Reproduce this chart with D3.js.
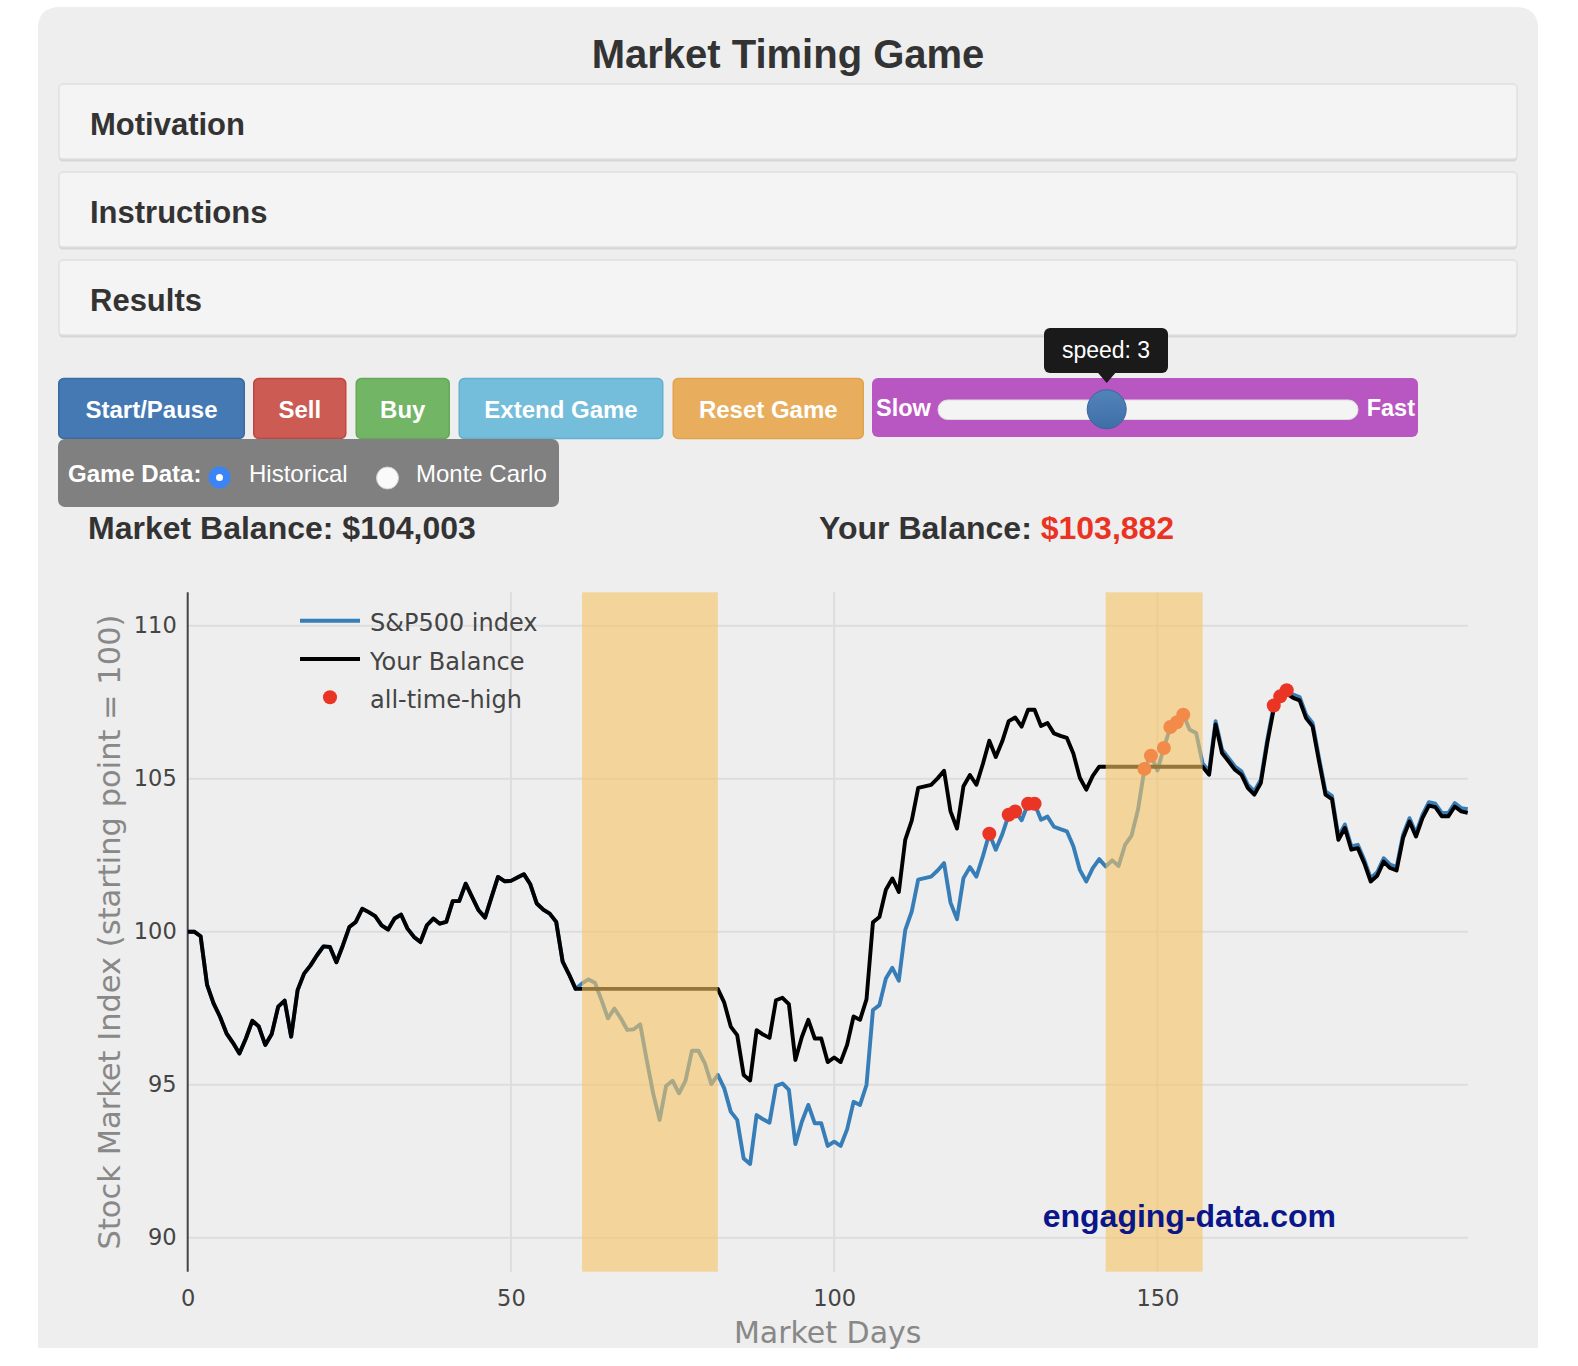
<!DOCTYPE html>
<html><head><meta charset="utf-8">
<script src="https://cdn.jsdelivr.net/npm/d3@7"></script>
<style>body{margin:0;background:#fff;overflow:hidden}svg{display:block}</style>
</head><body><svg id="page" width="1578" height="1366"></svg>
<script>
// ---------------- DATA ----------------
const spx = [
100.0,100.0,99.85,98.26,97.66,97.22,96.68,96.37,96.02,96.51,
97.09,96.9,96.3,96.66,97.55,97.75,96.57,98.09,98.63,98.9,
99.23,99.52,99.5,99.0,99.55,100.15,100.32,100.75,100.64,100.51,
100.21,100.07,100.43,100.56,100.1,99.83,99.66,100.21,100.43,100.26,
100.32,101.0,101.0,101.57,101.13,100.7,100.46,101.13,101.79,101.65,
101.66,101.77,101.88,101.55,100.92,100.72,100.59,100.32,99.02,98.6,
98.13,98.31,98.44,98.33,97.77,97.17,97.49,97.17,96.79,96.81,
96.97,95.81,94.72,93.85,94.96,95.13,94.72,95.13,96.11,96.11,
95.7,95.02,95.32,94.88,94.12,93.85,92.59,92.41,94.01,93.87,
93.76,94.96,95.04,94.83,93.06,93.79,94.34,93.74,93.74,93.0,
93.14,93.0,93.54,94.44,94.34,94.99,97.44,97.6,98.47,98.82,
98.4,100.06,100.66,101.7,101.75,101.8,102.0,102.24,100.95,100.41,
101.75,102.11,101.8,102.46,103.2,102.68,103.18,103.82,103.93,103.64,
104.18,104.18,103.66,103.76,103.43,103.35,103.28,102.79,102.02,101.64,
102.08,102.37,102.13,102.33,102.15,102.84,103.14,103.99,105.32,105.75,
105.27,106.0,106.69,106.84,107.09,106.6,106.49,105.5,105.24,106.88,
105.95,105.68,105.4,105.24,104.8,104.59,104.97,106.28,107.39,107.69,
107.89,107.75,107.67,107.09,106.82,105.68,104.59,104.44,103.11,103.5,
102.79,102.84,102.35,101.75,101.94,102.4,102.19,102.11,103.17,103.71,
103.22,103.82,104.23,104.18,103.88,103.88,104.2,104.04,104.0
];
const balance = [
100.0,100.0,99.85,98.26,97.66,97.22,96.68,96.37,96.02,96.51,
97.09,96.9,96.3,96.66,97.55,97.75,96.57,98.09,98.63,98.9,
99.23,99.52,99.5,99.0,99.55,100.15,100.32,100.75,100.64,100.51,
100.21,100.07,100.43,100.56,100.1,99.83,99.66,100.21,100.43,100.26,
100.32,101.0,101.0,101.57,101.13,100.7,100.46,101.13,101.79,101.65,
101.66,101.77,101.88,101.55,100.92,100.72,100.59,100.32,99.02,98.6,
98.13,98.13,98.13,98.13,98.13,98.13,98.13,98.13,98.13,98.13,
98.13,98.13,98.13,98.13,98.13,98.13,98.13,98.13,98.13,98.13,
98.13,98.13,98.13,97.68,96.90,96.62,95.32,95.14,96.78,96.64,
96.53,97.76,97.84,97.63,95.81,96.56,97.12,96.51,96.51,95.74,
95.89,95.74,96.30,97.23,97.12,97.79,100.31,100.48,101.37,101.74,
101.30,103.01,103.63,104.70,104.75,104.80,105.01,105.26,103.93,103.37,
104.75,105.12,104.80,105.48,106.24,105.71,106.22,106.88,107.00,106.70,
107.25,107.25,106.72,106.82,106.48,106.40,106.33,105.82,105.03,104.64,
105.09,105.39,105.39,105.39,105.39,105.39,105.39,105.39,105.39,105.39,
105.39,105.39,105.39,105.39,105.39,105.39,105.39,105.39,105.13,106.77,
105.84,105.57,105.29,105.13,104.69,104.48,104.86,106.17,107.28,107.58,
107.78,107.64,107.56,106.98,106.71,105.57,104.48,104.33,103.0,103.39,
102.68,102.73,102.24,101.64,101.83,102.29,102.08,102.0,103.06,103.6,
103.11,103.71,104.12,104.07,103.77,103.77,104.09,103.93,103.88
];
const athDays = [124,127,128,130,131,148,149,151,152,153,154,168,169,170];
const outStart = [61, 142];   // days sold (in cash)
const outEnd = [82, 157];     // days bought back
const yTicks = [90, 95, 100, 105, 110];
const xTicks = [0, 50, 100, 150];
const seriesNames = ["S&P500 index", "Your Balance", "all-time-high"];
const panelTitles = ["Motivation", "Instructions", "Results"];
const buttonLabels = ["Start/Pause", "Sell", "Buy", "Extend Game", "Reset Game"];
const marketBalance = "$104,003";
const yourBalance = "$103,882";

// ---------------- LAYOUT / STYLE ----------------
const SANS = "'Liberation Sans', Arial, Helvetica, sans-serif";
const CH = "'DejaVu Sans', Verdana, sans-serif";
const svg = d3.select("#page");
const defs = svg.append("defs");

// container (rounded top corners)
svg.append("path").attr("d","M38,1348 L38,29 Q38,7 60,7 L1516,7 Q1538,7 1538,29 L1538,1348 Z")
  .attr("fill","#eeeeee");

svg.append("text").attr("x",788).attr("y",68).attr("text-anchor","middle")
  .attr("font-family",SANS).attr("font-weight","bold").attr("font-size",40)
  .attr("fill","#333").text("Market Timing Game");

// collapsible panels
const pg = svg.append("g");
panelTitles.forEach((t,i)=>{
  const y0 = 84 + 88*i;
  pg.append("rect").attr("x",59).attr("y",y0+1.5).attr("width",1458).attr("height",76)
    .attr("rx",4).attr("fill","#d6d6d6");
  pg.append("rect").attr("x",59).attr("y",y0).attr("width",1458).attr("height",75)
    .attr("rx",4).attr("fill","#f4f4f4").attr("stroke","#e0e0e0").attr("stroke-width",1.5);
  pg.append("text").attr("x",90).attr("y",y0+51).attr("font-family",SANS)
    .attr("font-weight","bold").attr("font-size",31).attr("fill","#333").text(t);
});

// buttons
const btnX0 = [58, 253, 355.5, 458.5, 672.5];
const btnX1 = [245, 346.5, 450, 663.5, 864];
const btnFill = ["#4579b3","#cb5b53","#72b565","#74bddb","#e8ae5e"];
const btnStroke = ["#3b6aa0","#c0463f","#63a956","#62b0d2","#e1a24b"];
const bg = svg.append("g");
buttonLabels.forEach((t,i)=>{
  bg.append("rect").attr("x",btnX0[i]+0.75).attr("y",378.5).attr("width",btnX1[i]-btnX0[i]-1.5)
    .attr("height",60).attr("rx",5).attr("fill",btnFill[i]).attr("stroke",btnStroke[i]).attr("stroke-width",1.5);
  bg.append("text").attr("x",(btnX0[i]+btnX1[i])/2).attr("y",418).attr("text-anchor","middle")
    .attr("font-family",SANS).attr("font-weight","bold").attr("font-size",24).attr("fill","#fff").text(t);
});

// speed slider
bg.append("rect").attr("x",872).attr("y",378).attr("width",546).attr("height",59).attr("rx",6).attr("fill","#b957c2");
bg.append("text").attr("x",876).attr("y",416).attr("font-family",SANS).attr("font-weight","bold")
  .attr("font-size",23.5).attr("fill","#fff").text("Slow");
bg.append("text").attr("x",1415).attr("y",416).attr("text-anchor","end").attr("font-family",SANS).attr("font-weight","bold")
  .attr("font-size",23.5).attr("fill","#fff").text("Fast");
bg.append("rect").attr("x",938).attr("y",400).attr("width",420).attr("height",19.5).attr("rx",9.5)
  .attr("fill","#f4f4f4").attr("stroke","#dcdcdc").attr("stroke-width",1);
const hg = defs.append("linearGradient").attr("id","hg").attr("x1",0).attr("y1",0).attr("x2",0).attr("y2",1);
hg.append("stop").attr("offset","0%").attr("stop-color","#5184ba");
hg.append("stop").attr("offset","100%").attr("stop-color","#3f6ea6");
bg.append("circle").attr("cx",1106.7).attr("cy",409.3).attr("r",19.5).attr("fill","url(#hg)").attr("stroke","#3a6699").attr("stroke-width",1);
// tooltip
bg.append("rect").attr("x",1044).attr("y",328).attr("width",124).attr("height",45).attr("rx",6).attr("fill","#1a1a1a");
bg.append("path").attr("d","M1097.7,372.5 L1115.7,372.5 L1106.7,383 Z").attr("fill","#1a1a1a");
bg.append("text").attr("x",1106).attr("y",357.5).attr("text-anchor","middle").attr("font-family",SANS)
  .attr("font-size",23).attr("fill","#fff").text("speed: 3");

// game data box
bg.append("rect").attr("x",58).attr("y",439).attr("width",501).attr("height",68).attr("rx",7).attr("fill","#808080");
bg.append("text").attr("x",68).attr("y",482).attr("font-family",SANS).attr("font-weight","bold")
  .attr("font-size",24).attr("fill","#fff").text("Game Data:");
bg.append("circle").attr("cx",219.5).attr("cy",477.5).attr("r",11).attr("fill","#3b84f5");
bg.append("circle").attr("cx",219.5).attr("cy",477.5).attr("r",3.5).attr("fill","#fff");
bg.append("text").attr("x",249).attr("y",482).attr("font-family",SANS).attr("font-size",24).attr("fill","#fff").text("Historical");
bg.append("circle").attr("cx",387.5).attr("cy",478).attr("r",11).attr("fill","#fafafa").attr("stroke","#d0d0d0").attr("stroke-width",1);
bg.append("text").attr("x",416).attr("y",482).attr("font-family",SANS).attr("font-size",24).attr("fill","#fff").text("Monte Carlo");

// balances
const mb = svg.append("text").attr("x",88).attr("y",539).attr("font-family",SANS).attr("font-weight","bold")
  .attr("font-size",32).attr("fill","#333");
mb.append("tspan").text("Market Balance: " + marketBalance);
const yb = svg.append("text").attr("x",819).attr("y",539).attr("font-family",SANS).attr("font-weight","bold")
  .attr("font-size",32).attr("fill","#333");
yb.append("tspan").text("Your Balance: ");
yb.append("tspan").attr("fill","#ea3323").text(yourBalance);

// ---------------- CHART ----------------
const x = d3.scaleLinear().domain([0,198]).range([187.7,1467.7]);
const y = d3.scaleLinear().domain([88.89,111.09]).range([1271.7,592.3]);
const plotTop = y.range()[1], plotBot = y.range()[0];
const cg = svg.append("g");

// gridlines
cg.selectAll(".hg").data(yTicks).join("line")
  .attr("x1",x(0)).attr("x2",x(198)).attr("y1",d=>y(d)).attr("y2",d=>y(d))
  .attr("stroke","#dddddd").attr("stroke-width",2);
cg.selectAll(".vg").data(xTicks.filter(d=>d>0)).join("line")
  .attr("x1",d=>x(d)).attr("x2",d=>x(d)).attr("y1",plotTop).attr("y2",plotBot)
  .attr("stroke","#dddddd").attr("stroke-width",2);

// axes
const gy = cg.append("g").attr("transform",`translate(${x(0)},0)`)
  .call(d3.axisLeft(y).tickValues(yTicks).tickSize(0).tickPadding(11));
gy.select(".domain").remove();
gy.selectAll("text").attr("font-family",CH).attr("font-size",22.5).attr("fill","#444");
const gx = cg.append("g").attr("transform",`translate(0,${plotBot})`)
  .call(d3.axisBottom(x).tickValues(xTicks).tickSize(0).tickPadding(18.3));
gx.select(".domain").remove();
gx.selectAll("text").attr("font-family",CH).attr("font-size",22.5).attr("fill","#444");
cg.append("line").attr("x1",x(0)).attr("x2",x(0)).attr("y1",plotTop).attr("y2",plotBot)
  .attr("stroke","#444").attr("stroke-width",2);

// series
const line = d3.line().x((d,i)=>x(i)).y(d=>y(d));
cg.append("path").attr("d",line(spx)).attr("fill","none").attr("stroke","#377eb8")
  .attr("stroke-width",3.9).attr("stroke-linejoin","round");
cg.append("path").attr("d",line(balance)).attr("fill","none").attr("stroke","#000")
  .attr("stroke-width",3.9).attr("stroke-linejoin","round");
cg.selectAll(".ath").data(athDays).join("circle")
  .attr("cx",d=>x(d)).attr("cy",d=>y(spx[d])).attr("r",7).attr("fill","#eb3524");

// out-of-market shading
cg.selectAll(".out").data(outStart).join("rect")
  .attr("x",d=>x(d)).attr("width",(d,i)=>x(outEnd[i])-x(d))
  .attr("y",plotTop).attr("height",plotBot-plotTop)
  .attr("fill","rgb(247,197,100)").attr("opacity",0.6);

// watermark
cg.append("text").attr("x",1042.7).attr("y",1226.7).attr("font-family",SANS).attr("font-weight","bold")
  .attr("font-size",32).attr("fill","#0a1689").text("engaging-data.com");

// legend
const lg = cg.append("g");
const legY = [620.7, 659, 697.3];
lg.append("line").attr("x1",300).attr("x2",360).attr("y1",legY[0]).attr("y2",legY[0]).attr("stroke","#377eb8").attr("stroke-width",3.9);
lg.append("line").attr("x1",300).attr("x2",360).attr("y1",legY[1]).attr("y2",legY[1]).attr("stroke","#000").attr("stroke-width",3.9);
lg.append("circle").attr("cx",330).attr("cy",legY[2]).attr("r",7).attr("fill","#eb3524");
seriesNames.forEach((t,i)=>{
  lg.append("text").attr("x",370).attr("y",legY[i]+10.5).attr("font-family",CH).attr("font-size",24)
    .attr("fill","#444").text(t);
});

// axis titles
cg.append("text").attr("transform",`translate(120,${(plotTop+plotBot)/2}) rotate(-90)`)
  .attr("text-anchor","middle").attr("font-family",CH).attr("font-size",30.5).attr("fill","#888")
  .text("Stock Market Index (starting point = 100)");
cg.append("text").attr("x",(x(0)+x(198))/2).attr("y",1343).attr("text-anchor","middle")
  .attr("font-family",CH).attr("font-size",30).attr("fill","#888").text("Market Days");
</script>
</body></html>
